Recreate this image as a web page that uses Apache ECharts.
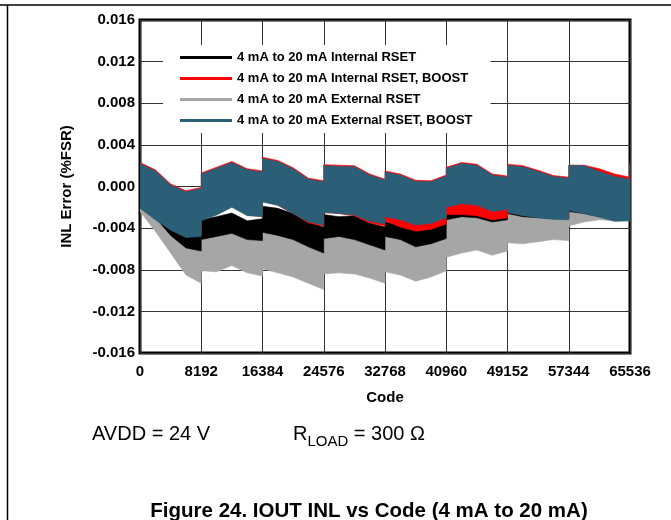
<!DOCTYPE html>
<html><head><meta charset="utf-8">
<script src="https://cdn.jsdelivr.net/npm/echarts@6.0.0/dist/echarts.min.js"></script>
<style>html,body{margin:0;padding:0;background:#fff}#c{width:671px;height:520px}</style>
</head><body><div id="c"></div>
<script>
// ---- data ----
const xTicks = [0, 8192, 16384, 24576, 32768, 40960, 49152, 57344, 65536];
const yTicks = [-0.016, -0.012, -0.008, -0.004, 0, 0.004, 0.008, 0.012, 0.016];
const seriesNames = [
  '4 mA to 20 mA Internal RSET',
  '4 mA to 20 mA Internal RSET, BOOST',
  '4 mA to 20 mA External RSET',
  '4 mA to 20 mA External RSET, BOOST'
];
const codes = [0,2048,4096,6144,8191, 8192,10240,12288,14336,16383, 16384,18432,20480,22528,24575,
  24576,26624,28672,30720,32767, 32768,34816,36864,38912,40959, 40960,43008,45056,47104,49151,
  49152,51200,53248,55296,57343, 57344,59392,61440,63488,65535, 65536];
// envelopes (upper / lower) of each noisy trace
const extBoostHi = [0.0022,0.0015,0.00015,-0.0005,-0.0002, 0.0012,0.00175,0.0023,0.0016,0.0014,
  0.0027,0.0024,0.0017,0.0007,0.00045, 0.0020,0.00195,0.0019,0.0011,0.0006,
  0.0014,0.0011,0.0005,0.00045,0.0010, 0.00175,0.0022,0.00205,0.0011,0.0009,
  0.00205,0.0019,0.00145,0.00095,0.0008, 0.00205,0.0020,0.00145,0.00095,0.0007, 0.0021];
const extBoostLo = [-0.0021,-0.0032,-0.0042,-0.0049,-0.0048, -0.0033,-0.00275,-0.0020,-0.0028,-0.0029,
  -0.0015,-0.0018,-0.0026,-0.0034,-0.0037, -0.0025,-0.0026,-0.00275,-0.00335,-0.0036,
  -0.0029,-0.0032,-0.0037,-0.00355,-0.0030, -0.0020,-0.00165,-0.0018,-0.0024,-0.0022,
  -0.0025,-0.0028,-0.0030,-0.00315,-0.0032, -0.0023,-0.0026,-0.00295,-0.00335,-0.0033, -0.0023];
const intBoostHi = [0.0023,0.0016,0.00025,-0.0004,-0.0001, 0.0013,0.00185,0.0024,0.0017,0.0015,
  0.0028,0.0025,0.0018,0.0008,0.00055, 0.0021,0.00205,0.0020,0.0012,0.0007,
  0.0015,0.0012,0.0006,0.00055,0.0011, 0.00185,0.0023,0.00215,0.0012,0.0010,
  0.00215,0.0020,0.00155,0.00105,0.0009, 0.00205,0.00205,0.0017,0.0012,0.0009, 0.0023];
const intBoostLo = [-0.0019,-0.0030,-0.0040,-0.0047,-0.0046, -0.0031,-0.0027,-0.0019,-0.0027,-0.0029,
  -0.0014,-0.0018,-0.0026,-0.0035,-0.0038, -0.0025,-0.0026,-0.0028,-0.0035,-0.0038,
  -0.0033,-0.0039,-0.0043,-0.0041,-0.0036, -0.0027,-0.0027,-0.0028,-0.0032,-0.0030,
  -0.0024,-0.0027,-0.0029,-0.0030,-0.0031, -0.0022,-0.0025,-0.0028,-0.0032,-0.0031, -0.0022];
const intHi = [0.0016,0.0006,-0.0039,-0.0045,-0.0046, -0.0032,-0.0029,-0.00255,-0.0033,-0.0031,
  -0.0019,-0.0021,-0.0026,-0.0034,-0.0039, -0.0027,-0.0029,-0.0028,-0.0035,-0.0039,
  -0.0034,-0.0037,-0.0042,-0.0040,-0.0036, -0.0019,-0.0016,-0.0017,-0.0023,-0.0022,
  -0.0005,-0.0007,-0.0010,-0.0013,-0.0014, -0.0005,-0.0006,-0.0009,-0.0013,-0.0014, -0.0003];
const intLo = [-0.0020,-0.0030,-0.0047,-0.0059,-0.0062, -0.0051,-0.0048,-0.0045,-0.0051,-0.0052,
  -0.0044,-0.0047,-0.0051,-0.0058,-0.0064, -0.0050,-0.0048,-0.0051,-0.0056,-0.0061,
  -0.0048,-0.0051,-0.0058,-0.0055,-0.0050, -0.0032,-0.0029,-0.0030,-0.0034,-0.0032,
  -0.0026,-0.0029,-0.0030,-0.0031,-0.0031, -0.0024,-0.0026,-0.0029,-0.0032,-0.0031, -0.0024];
const extHi = [0.0015,0.0000,-0.0018,-0.0032,-0.0034, -0.0036,-0.0033,-0.0030,-0.0037,-0.0035,
  -0.0024,-0.0026,-0.0031,-0.0039,-0.0044, -0.0032,-0.0034,-0.0033,-0.0040,-0.0044,
  -0.0038,-0.0041,-0.0046,-0.0044,-0.0040, -0.0020,-0.0018,-0.0019,-0.0024,-0.0023,
  -0.0018,-0.0020,-0.0021,-0.0023,-0.0024, -0.0010,-0.0012,-0.0015,-0.0018,-0.0019, -0.0008];
const extLo = [-0.0024,-0.0043,-0.0064,-0.0085,-0.0093, -0.0081,-0.0082,-0.0076,-0.0083,-0.0086,
  -0.0079,-0.0083,-0.0087,-0.0093,-0.0099, -0.0084,-0.0083,-0.0084,-0.0088,-0.0093,
  -0.0082,-0.0085,-0.0091,-0.0087,-0.0081, -0.0068,-0.0064,-0.0061,-0.0066,-0.0062,
  -0.0054,-0.0055,-0.0053,-0.0051,-0.0052, -0.0038,-0.0034,-0.0032,-0.0033,-0.0033, -0.0025];

const colors = ['#000000', '#ff0000', '#a6a6a6', '#2b5e77'];
const FONT = 'Arial, "Liberation Sans", sans-serif';

// each trace is drawn as the filled band between its lower and upper envelope
function band(name, lo, hi, color) {
  return {
    type: 'custom', name: name, color: color, silent: true, clip: true,
    itemStyle: { color: color },
    encode: { x: 0, y: [1, 2] },
    data: codes.map((c, i) => [c, lo[i], hi[i]]),
    renderItem: function (params, api) {
      if (params.dataIndex !== 0) return null;
      const pts = [];
      for (let i = 0; i < codes.length; i++) pts.push(api.coord([codes[i], hi[i]]));
      for (let i = codes.length - 1; i >= 0; i--) pts.push(api.coord([codes[i], lo[i]]));
      return { type: 'polygon', shape: { points: pts }, style: { fill: color, stroke: color, lineWidth: 0.6 } };
    }
  };
}

const chart = echarts.init(document.getElementById('c'), null, { renderer: 'canvas' });
chart.setOption({
  animation: false,
  backgroundColor: '#fff',
  grid: { left: 140, right: 41, top: 20, bottom: 167, containLabel: false, outerBoundsMode: 'none',
    show: true, borderColor: '#000', borderWidth: 3, backgroundColor: 'transparent' },
  xAxis: {
    type: 'value', min: xTicks[0], max: xTicks[xTicks.length - 1], interval: xTicks[1] - xTicks[0],
    name: 'Code', nameLocation: 'middle', nameGap: 37,
    nameTextStyle: { fontFamily: FONT, fontWeight: 'bold', fontSize: 15, color: '#000' },
    axisLine: { show: false }, axisTick: { show: false },
    axisLabel: { margin: 11, fontFamily: FONT, fontWeight: 'bold', fontSize: 15, color: '#000',
      showMinLabel: true, showMaxLabel: true, formatter: v => String(v) },
    splitLine: { show: true, lineStyle: { color: '#333', width: 1 } }
  },
  yAxis: {
    type: 'value', min: yTicks[0], max: yTicks[yTicks.length - 1], interval: yTicks[1] - yTicks[0],
    name: 'INL Error (%FSR)', nameLocation: 'middle', nameGap: 66, nameRotate: 90,
    nameTextStyle: { fontFamily: FONT, fontWeight: 'bold', fontSize: 15, color: '#000' },
    axisLine: { show: false }, axisTick: { show: false },
    axisLabel: { margin: 5, fontFamily: FONT, fontWeight: 'bold', fontSize: 15, color: '#000',
      formatter: v => (Math.abs(v) < 1e-9 ? 0 : v).toFixed(3) },
    splitLine: { show: true, lineStyle: { color: '#333', width: 1 } }
  },
  legend: {
    orient: 'vertical', left: 163, top: 45, padding: [6, 18, 6, 17],
    backgroundColor: '#fff', itemGap: 8, itemWidth: 52, itemHeight: 3, icon: 'rect',
    textStyle: { fontFamily: FONT, fontWeight: 'bold', fontSize: 13, color: '#000', lineHeight: 13 },
    data: seriesNames.map((n, i) => ({ name: n, itemStyle: { color: colors[i] } })),
    selectedMode: false
  },
  series: [
    band(seriesNames[2], extLo, extHi, colors[2]),
    band(seriesNames[0], intLo, intHi, colors[0]),
    band(seriesNames[1], intBoostLo, intBoostHi, colors[1]),
    band(seriesNames[3], extBoostLo, extBoostHi, colors[3])
  ],
  graphic: [
    { type: 'line', shape: { x1: 0, y1: 5, x2: 671, y2: 5 }, style: { stroke: '#000', lineWidth: 1.5 } },
    { type: 'line', shape: { x1: 7.5, y1: 5, x2: 7.5, y2: 520 }, style: { stroke: '#000', lineWidth: 1.5 } },
    { type: 'text', x: 92, y: 424, style: { text: 'AVDD = 24 V', font: '20px ' + FONT, fill: '#000' } },
    { type: 'text', x: 293, y: 424, style: {
        text: '{r|R}{s|LOAD}{r| = 300 Ω}', fill: '#000',
        rich: { r: { fontSize: 20, fontFamily: FONT, verticalAlign: 'top', lineHeight: 22 },
                s: { fontSize: 15, fontFamily: FONT, verticalAlign: 'bottom', lineHeight: 25, padding: [7, 0, 0, 0] } } } },
    { type: 'text', x: 369, y: 501, style: { text: 'Figure 24. IOUT INL vs Code (4 mA to 20 mA)',
        font: 'bold 20.5px ' + FONT, fill: '#000', align: 'center' } }
  ]
});
</script>
</body></html>
